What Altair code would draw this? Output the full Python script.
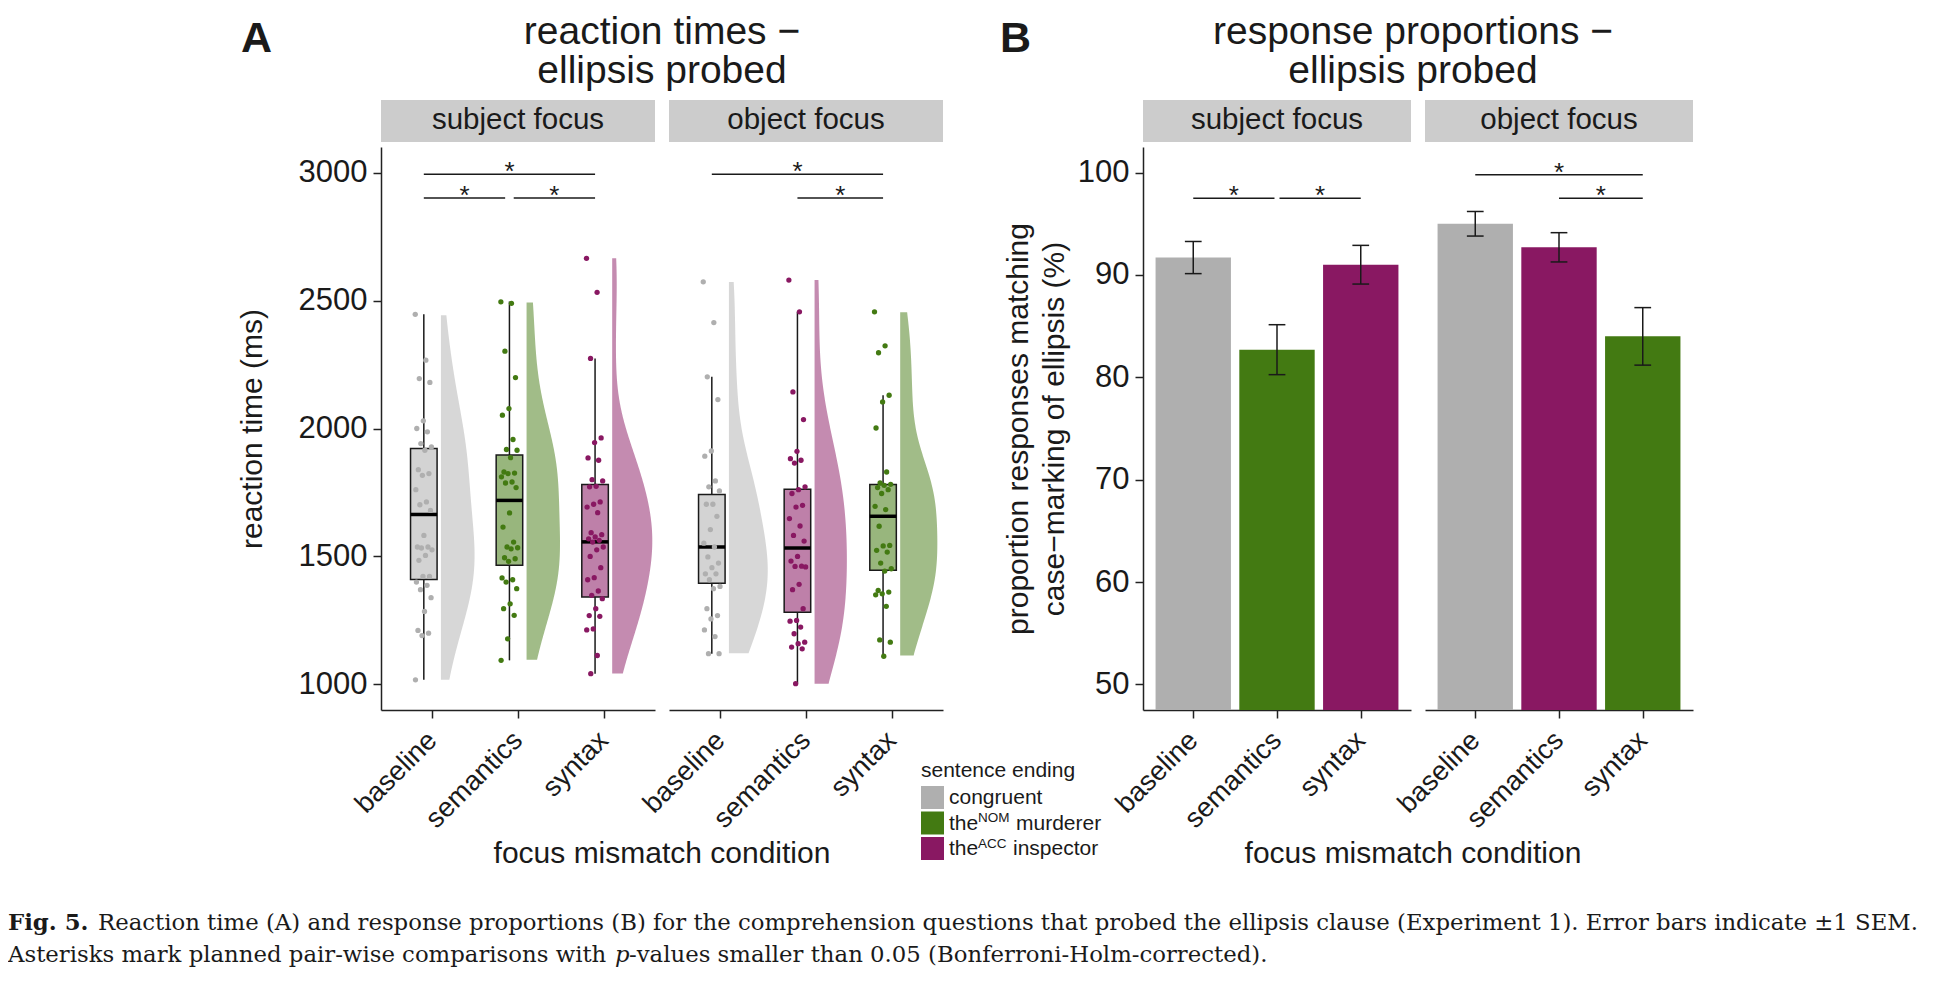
import altair as alt
import pandas as pd

SANS = "Liberation Sans"
SERIF = "DejaVu Serif"
INK = "#1a1a1a"

# ---------------------------------------------------------------- data
CONDITIONS = ["baseline", "semantics", "syntax"]
FOCI = ["subject focus", "object focus"]
ENDINGS = ["congruent", "theNOM murderer", "theACC inspector"]
ENDING_COLORS = ["#afafaf", "#437a12", "#891862"]
ENDINGS_SUBJECT = ["congruent", "theNOM murderer", "theACC inspector"]
ENDINGS_OBJECT = ["congruent", "theACC inspector", "theNOM murderer"]

# panel A: individual reaction times (ms)
rt_subj_baseline = [2446, 2267, 2195, 2180, 2030, 2000, 1987, 1941, 1928, 1915, 1839, 1824,
                    1817, 1761, 1713, 1702, 1680, 1582, 1537, 1537, 1533, 1526, 1504, 1485,
                    1422, 1422, 1400, 1387, 1370, 1339, 1285, 1211, 1200, 1191, 1018]
rt_subj_semantics = [2495, 2489, 2302, 2199, 2078, 2052, 1957, 1918, 1915, 1886, 1830, 1826,
                     1824, 1811, 1791, 1787, 1769, 1670, 1615, 1556, 1537, 1534, 1530, 1495,
                     1491, 1481, 1416, 1409, 1400, 1374, 1315, 1296, 1270, 1178, 1094]
rt_subj_syntax = [2665, 2532, 2274, 1963, 1945, 1885, 1876, 1800, 1795, 1774, 1772, 1713,
                  1704, 1693, 1671, 1593, 1585, 1576, 1569, 1563, 1556, 1537, 1526, 1500,
                  1456, 1417, 1409, 1365, 1348, 1335, 1296, 1269, 1266, 1217, 1213, 1113, 1042]
rt_obj_baseline = [2573, 2414, 2202, 2113, 1912, 1892, 1795, 1772, 1756, 1704, 1704, 1657,
                   1605, 1552, 1537, 1498, 1474, 1456, 1432, 1432, 1409, 1383, 1374, 1296,
                   1269, 1256, 1213, 1187, 1120, 1120]
rt_obj_semantics = [2580, 2456, 2143, 2035, 1911, 1882, 1876, 1865, 1772, 1761, 1746, 1700,
                    1693, 1648, 1619, 1582, 1560, 1500, 1482, 1462, 1461, 1459, 1391, 1370,
                    1296, 1250, 1247, 1224, 1198, 1165, 1159, 1146, 1139, 1003]
rt_obj_syntax = [2456, 2323, 2296, 2130, 2104, 2002, 1830, 1787, 1782, 1778, 1769, 1761,
                 1746, 1696, 1683, 1618, 1543, 1541, 1524, 1517, 1474, 1452, 1443, 1367,
                 1361, 1354, 1350, 1305, 1174, 1165, 1110]

# panel A: box statistics (order: subject baseline/semantics/syntax, object baseline/semantics/syntax)
box_q1 = [1410, 1466, 1342, 1395, 1282, 1446]
box_med = [1664, 1719, 1557, 1537, 1533, 1657]
box_q3 = [1922, 1896, 1781, 1742, 1763, 1781]
box_lo = [1018, 1094, 1042, 1120, 1003, 1110]
box_hi = [2446, 2496, 2274, 2202, 2456, 2130]

# panel A: significance brackets
sigA_focus = ["subject focus", "subject focus", "subject focus", "object focus", "object focus"]
sigA_xmin = [0.9, 0.9, 1.95, 0.9, 1.9]
sigA_xmax = [2.9, 1.85, 2.9, 2.9, 2.9]
sigA_y = [2994, 2901, 2901, 2994, 2901]

# panel B: response proportions (%) and SEM
prop_mean = [91.7, 82.7, 91.0, 95.0, 92.7, 84.0]
prop_sem = [1.57, 2.44, 1.89, 1.20, 1.43, 2.81]

sigB_focus = ["subject focus", "subject focus", "object focus", "object focus"]
sigB_xmin = [1.0, 2.03, 1.0, 2.0]
sigB_xmax = [1.97, 3.0, 3.0, 3.0]
sigB_y = [97.5, 97.5, 99.8, 97.5]

rt_lists = [[rt_subj_baseline, rt_subj_semantics, rt_subj_syntax],
            [rt_obj_baseline, rt_obj_semantics, rt_obj_syntax]]

rt_rows, box_rows, prop_rows = [], [], []
for fi, focus in enumerate(FOCI):
    ends = ENDINGS_SUBJECT if fi == 0 else ENDINGS_OBJECT
    for ci, cond in enumerate(CONDITIONS):
        k = fi * 3 + ci
        for i, v in enumerate(rt_lists[fi][ci]):
            rt_rows.append(dict(focus=focus, cond=cond, pos=ci + 1, ending=ends[ci], idx=i, rt=v))
        box_rows.append(dict(focus=focus, cond=cond, pos=ci + 1, ending=ends[ci],
                             q1=box_q1[k], med=box_med[k], q3=box_q3[k], lo=box_lo[k], hi=box_hi[k]))
        prop_rows.append(dict(focus=focus, cond=cond, pos=ci + 1, ending=ends[ci],
                              mean=prop_mean[k], sem=prop_sem[k]))
rt_df = pd.DataFrame(rt_rows)
box_df = pd.DataFrame(box_rows)
prop_df = pd.DataFrame(prop_rows)
sigA_df = pd.DataFrame(dict(focus=sigA_focus, xmin=sigA_xmin, xmax=sigA_xmax, y=sigA_y))
sigB_df = pd.DataFrame(dict(focus=sigB_focus, xmin=sigB_xmin, xmax=sigB_xmax, y=sigB_y))
ONE = pd.DataFrame({"k": [0]})

# ---------------------------------------------------------------- style
W_A, W_B, H = 274, 268, 563
VIOLIN_K = 390
COLOR = alt.Color("ending:N", scale=alt.Scale(domain=ENDINGS, range=ENDING_COLORS), legend=None)
LABEL_EXPR = "datum.value == 1 ? '%s' : datum.value == 2 ? '%s' : '%s'" % tuple(CONDITIONS)

AX = dict(grid=False, domainColor="#222222", domainWidth=1.5, tickColor="#222222", tickWidth=1.5,
          tickSize=8, labelFont=SANS, labelColor=INK, titleFont=SANS,
          titleFontSize=30, titleFontWeight="normal", titleColor=INK)


def x_axis():
    return alt.Axis(values=[1, 2, 3], labelExpr=LABEL_EXPR, title=None, labelAngle=-45,
                    labelAlign="right", labelBaseline="top", labelPadding=8, labelOffset=-10,
                    labelOverlap=False, labelFontSize=27.5, **AX)


def txt(text, x, y, size, weight="normal", align="left", font=SANS, style="normal",
        baseline="alphabetic", color=INK, line_height=None):
    extra = {} if line_height is None else {"lineHeight": line_height}
    return alt.Chart(ONE).mark_text(text=text, fontSize=size, fontWeight=weight, align=align,
                                    font=font, fontStyle=style, baseline=baseline,
                                    color=color, **extra).encode(x=alt.value(x), y=alt.value(y))


def box_px(x0, x1, y0, y1, fill, opacity=1.0):
    return alt.Chart(ONE).mark_rect(color=fill, opacity=opacity).encode(
        x=alt.value(x0), x2=alt.value(x1), y=alt.value(y0), y2=alt.value(y1))


def strip(focus, w):
    return [box_px(0, w, -47, -5, "#cccccc"), txt(focus, w / 2, -18, 29.5, align="center")]


# ---------------------------------------------------------------- panel A
def rt_panel(focus, first):
    xs = alt.Scale(domain=[0.4, 3.6], nice=False, zero=False)
    ys = alt.Scale(domain=[900, 3100], nice=False, zero=False)
    xax = x_axis()
    yax = alt.Axis(values=[1000, 1500, 2000, 2500, 3000], format="d", title="reaction time (ms)",
                   titleAngle=270, titleX=-129, titleY=H / 2, titleAlign="center",
                   titleBaseline="middle", labelPadding=6, labelFontSize=31, **AX) if first else None

    def X(f):
        return alt.X(f, type="quantitative", scale=xs, axis=xax)

    def Y(f):
        return alt.Y(f, type="quantitative", scale=ys, axis=yax)

    d = rt_df[rt_df.focus == focus]
    b = box_df[box_df.focus == focus]
    s = sigA_df[sigA_df.focus == focus]

    violin = alt.Chart(d).transform_joinaggregate(
        mn="min(rt)", mx="max(rt)", groupby=["pos"]
    ).transform_density(
        "rt", groupby=["pos", "ending", "mn", "mx"], as_=["rt", "density"], steps=400
    ).transform_filter(
        "datum.rt >= datum.mn && datum.rt <= datum.mx"
    ).transform_calculate(
        v0="datum.pos + 0.1", v1="datum.pos + 0.1 + datum.density * %d" % VIOLIN_K
    ).mark_area(orient="horizontal", opacity=0.5).encode(
        x=alt.X("v1", type="quantitative", scale=xs, axis=xax, stack=None),
        x2=alt.X2("v0"), y=Y("rt"), color=COLOR)

    bb = alt.Chart(b).transform_calculate(
        c="datum.pos - 0.1", b0="datum.pos - 0.255", b1="datum.pos + 0.055")
    w_lo = bb.mark_rule(color=INK, strokeWidth=1.5).encode(x=X("c"), y=Y("lo"), y2=alt.Y2("q1"))
    w_hi = bb.mark_rule(color=INK, strokeWidth=1.5).encode(x=X("c"), y=Y("q3"), y2=alt.Y2("hi"))
    rect = bb.mark_rect(stroke=INK, strokeWidth=1.5, fillOpacity=0.55).encode(
        x=X("b0"), x2=alt.X2("b1"), y=Y("q1"), y2=alt.Y2("q3"), color=COLOR)
    med = bb.mark_rule(color="black", strokeWidth=3.5).encode(x=X("b0"), x2=alt.X2("b1"), y=Y("med"))

    pts = alt.Chart(d).transform_calculate(
        jx="datum.pos - 0.1 + ((datum.idx * 0.618034) % 1 - 0.5) * 0.2"
    ).mark_circle(size=28, opacity=1).encode(x=X("jx"), y=Y("rt"), color=COLOR)

    sig = alt.Chart(s).mark_rule(color=INK, strokeWidth=1.5).encode(
        x=X("xmin"), x2=alt.X2("xmax"), y=Y("y"))
    ast = alt.Chart(s).transform_calculate(xm="(datum.xmin + datum.xmax) / 2").mark_text(
        text="*", fontSize=26, font=SANS, dy=6, baseline="alphabetic", color=INK).encode(
        x=X("xm"), y=Y("y"))

    layers = [violin, w_lo, w_hi, rect, med, pts, sig, ast] + strip(focus, W_A)
    if first:
        layers += annotations()
    return alt.layer(*layers).properties(width=W_A, height=H)


# ---------------------------------------------------------------- panel B
def prop_panel(focus, first):
    xs = alt.Scale(domain=[0.4, 3.6], nice=False, zero=False)
    ys = alt.Scale(domain=[47.5, 102.5], nice=False, zero=False)
    xax = x_axis()
    yax = alt.Axis(values=[50, 60, 70, 80, 90, 100],
                   title=["proportion responses matching", "case\u2212marking of ellipsis (%)"],
                   titleAngle=270, titleX=-125, titleY=H / 2, titleAlign="center",
                   titleBaseline="middle", titleLineHeight=36, labelPadding=6,
                   labelFontSize=31, **AX) if first else None

    def X(f):
        return alt.X(f, type="quantitative", scale=xs, axis=xax)

    def Y(f):
        return alt.Y(f, type="quantitative", scale=ys, axis=yax)

    p = alt.Chart(prop_df[prop_df.focus == focus]).transform_calculate(
        b0="datum.pos - 0.45", b1="datum.pos + 0.45", base="0",
        lo="datum.mean - datum.sem", hi="datum.mean + datum.sem",
        c0="datum.pos - 0.1", c1="datum.pos + 0.1")
    bars = p.mark_rect(clip=True).encode(x=X("b0"), x2=alt.X2("b1"), y=Y("mean"),
                                         y2=alt.Y2("base"), color=COLOR)
    err = p.mark_rule(color=INK, strokeWidth=1.5).encode(x=X("pos"), y=Y("lo"), y2=alt.Y2("hi"))
    cap_lo = p.mark_rule(color=INK, strokeWidth=1.5).encode(x=X("c0"), x2=alt.X2("c1"), y=Y("lo"))
    cap_hi = p.mark_rule(color=INK, strokeWidth=1.5).encode(x=X("c0"), x2=alt.X2("c1"), y=Y("hi"))

    s = sigB_df[sigB_df.focus == focus]
    sig = alt.Chart(s).mark_rule(color=INK, strokeWidth=1.5).encode(
        x=X("xmin"), x2=alt.X2("xmax"), y=Y("y"))
    ast = alt.Chart(s).transform_calculate(xm="(datum.xmin + datum.xmax) / 2").mark_text(
        text="*", fontSize=26, font=SANS, dy=6, baseline="alphabetic", color=INK).encode(
        x=X("xm"), y=Y("y"))

    layers = [bars, err, cap_lo, cap_hi, sig, ast] + strip(focus, W_B)
    return alt.layer(*layers).properties(width=W_B, height=H)


# ---------------------------------------------------------------- annotations (relative to panel A origin)
def annotations():
    a = []
    # invisible frame that fixes the page extent
    a.append(alt.Chart(ONE).mark_rect(opacity=0).encode(
        x=alt.value(-373), x2=alt.value(1544), y=alt.value(-139), y2=alt.value(828)))
    # panel letters and titles
    a.append(txt("A", -140, -95, 43, weight="bold"))
    a.append(txt("B", 619, -95, 43, weight="bold"))
    a.append(txt(["reaction times \u2212", "ellipsis probed"], 281, -103, 39,
                 align="center", line_height=39))
    a.append(txt(["response proportions \u2212", "ellipsis probed"], 1032, -103, 39,
                 align="center", line_height=39))
    # x axis titles
    a.append(txt("focus mismatch condition", 281, 716, 30, align="center"))
    a.append(txt("focus mismatch condition", 1032, 716, 30, align="center"))
    # legend
    a.append(txt("sentence ending", 540, 630, 21))
    tops = [639, 664.5, 690]
    for i, col in enumerate(ENDING_COLORS):
        a.append(box_px(540, 563, tops[i], tops[i] + 23, col))
    a.append(txt("congruent", 568, 657, 21))
    a.append(txt("the", 568, 682.5, 21))
    a.append(txt("NOM", 597, 675, 13.5))
    a.append(txt("murderer", 635, 682.5, 21))
    a.append(txt("the", 568, 708, 21))
    a.append(txt("ACC", 597, 700.5, 13.5))
    a.append(txt("inspector", 632, 708, 21))
    # caption
    a.append(txt("Fig. 5.", -373, 783, 22.8, weight="bold", font=SERIF))
    a.append(txt("Reaction time (A) and response proportions (B) for the comprehension questions "
                 "that probed the ellipsis clause (Experiment 1). Error bars indicate \u00b11 SEM.",
                 -283, 783, 22.8, font=SERIF))
    a.append(txt("Asterisks mark planned pair-wise comparisons with", -373, 815, 22.8, font=SERIF))
    a.append(txt("p", 234, 815, 22.8, font=SERIF, style="italic"))
    a.append(txt("-values smaller than 0.05 (Bonferroni-Holm-corrected).", 248, 815, 22.8, font=SERIF))
    return a


spacer = alt.Chart(ONE).mark_point(opacity=0).encode(
    x=alt.value(0), y=alt.value(0)).properties(width=172, height=H)

chart = alt.hconcat(
    rt_panel("subject focus", True),
    rt_panel("object focus", False),
    spacer,
    prop_panel("subject focus", True),
    prop_panel("object focus", False),
    spacing=14, bounds="flush",
).properties(padding=0).configure_view(stroke=None)

chart.save("out.html", embed_options={"renderer": "svg", "actions": False})
